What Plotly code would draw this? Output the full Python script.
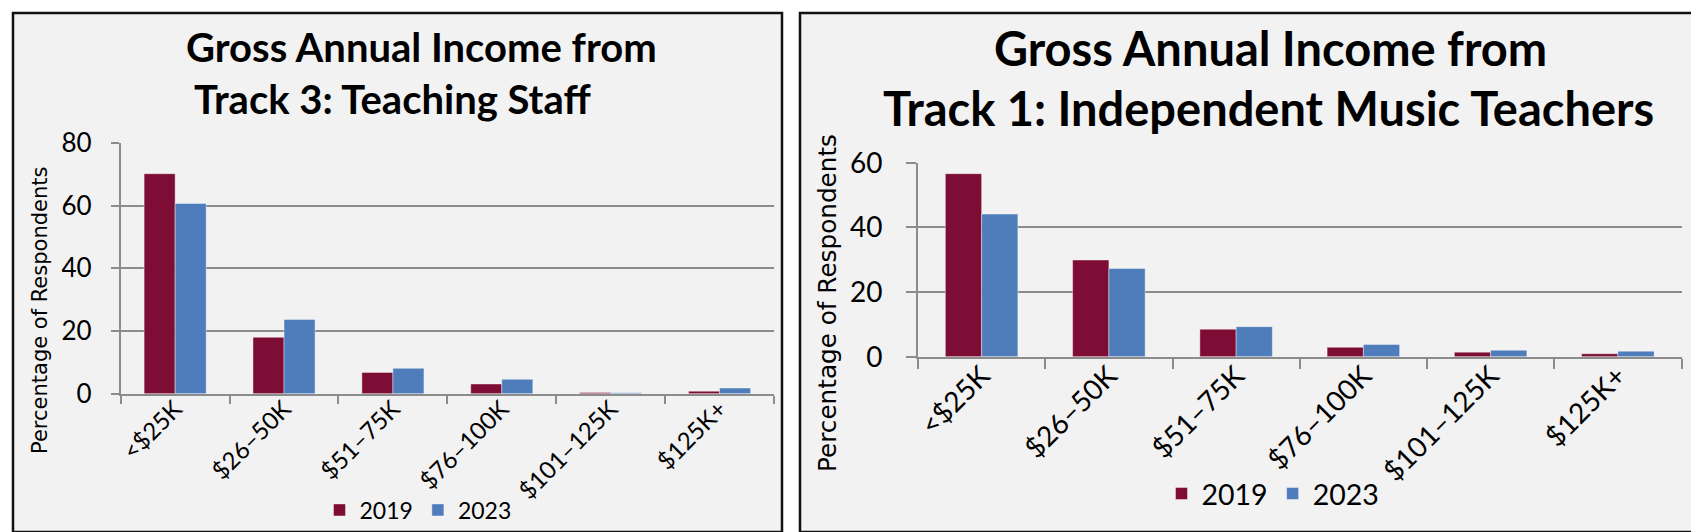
import plotly.graph_objects as go

# ---------------- data ----------------
categories = ["<$25K", "$26–50K", "$51–75K", "$76–100K", "$101–125K", "$125K+"]
series_names = ["2019", "2023"]
teaching_2019 = [70.2, 18.0, 6.8, 3.1, 0.4, 0.8]
teaching_2023 = [60.7, 23.7, 8.1, 4.6, 0.3, 1.8]
independent_2019 = [56.6, 29.9, 8.5, 2.9, 1.4, 0.9]
independent_2023 = [44.1, 27.3, 9.3, 3.8, 2.0, 1.7]
left_title = ["Gross Annual Income from", "Track 3: Teaching Staff"]
right_title = ["Gross Annual Income from", "Track 1: Independent Music Teachers"]
y_title = "Percentage of Respondents"

# ---------------- styling ----------------
W, H = 1699, 532
MAROON = "#7d0d35"
BLUE = "#4f7cba"
GRID = "#8c8c8c"
PANEL = "#f2f2f2"
HUMAN = "Lato, Liberation Sans, sans-serif"
WIDE = "DejaVu Sans, Verdana, sans-serif"


def px(x):
    return x / W


def py(y):
    return 1 - y / H


fig = go.Figure()
colors = [MAROON, BLUE]
for name, vals, col in zip(series_names, [teaching_2019, teaching_2023], colors):
    fig.add_trace(go.Bar(x=categories, y=vals, name=name, marker_color=col,
                         marker_line=dict(color="rgba(255,255,255,0.5)", width=0.8),
                         xaxis="x", yaxis="y", legend="legend"))
for name, vals, col in zip(series_names, [independent_2019, independent_2023], colors):
    fig.add_trace(go.Bar(x=categories, y=vals, name=name, marker_color=col,
                         marker_line=dict(color="rgba(255,255,255,0.5)", width=0.8),
                         xaxis="x2", yaxis="y2", legend="legend2"))


def xax(domain, anchor, size, ticklen, standoff):
    return dict(domain=domain, anchor=anchor, type="category", showline=True,
                linecolor=GRID, linewidth=1.6, ticks="outside", tickson="boundaries",
                ticklen=ticklen, tickcolor=GRID, tickwidth=1.6, tickangle=-45,
                ticklabelstandoff=standoff,
                tickfont=dict(family=HUMAN, size=size, color="#000"),
                showgrid=False, zeroline=False, automargin=False)


def yax(domain, anchor, rng, size, ticklen, standoff):
    return dict(domain=domain, anchor=anchor, range=rng, dtick=20, showline=True,
                linecolor=GRID, linewidth=1.6, ticks="outside", ticklen=ticklen,
                tickcolor=GRID, tickwidth=1.6, showgrid=True, gridcolor=GRID,
                gridwidth=1.6, zeroline=False, automargin=False,
                ticklabelstandoff=standoff,
                tickfont=dict(family=HUMAN, size=size, color="#000"))


shapes = [
    dict(type="rect", xref="paper", yref="paper", x0=px(5), x1=px(774), y0=py(524), y1=py(5),
         line=dict(color="#111", width=2.5), fillcolor=PANEL, layer="below"),
    dict(type="rect", xref="paper", yref="paper", x0=px(792), x1=px(1691), y0=py(524), y1=py(5),
         line=dict(color="#111", width=2.5), fillcolor=PANEL, layer="below"),
]

TF_L = dict(family=HUMAN, size=40, color="#000", weight="bold")
TF_R = dict(family=HUMAN, size=47, color="#000", weight="bold")
annotations = [
    dict(text=left_title[0], x=px(413), y=py(39), xref="paper", yref="paper", showarrow=False,
         xanchor="center", yanchor="middle", font=TF_L),
    dict(text=left_title[1], x=px(384), y=py(91), xref="paper", yref="paper", showarrow=False,
         xanchor="center", yanchor="middle", font=TF_L),
    dict(text=right_title[0], x=px(1262), y=py(40), xref="paper", yref="paper", showarrow=False,
         xanchor="center", yanchor="middle", font=TF_R),
    dict(text=right_title[1], x=px(1260), y=py(100), xref="paper", yref="paper", showarrow=False,
         xanchor="center", yanchor="middle", font=TF_R),
    dict(text=y_title, x=px(32), y=py(303), xref="paper", yref="paper", showarrow=False,
         textangle=-90, xanchor="center", yanchor="middle", font=dict(family=WIDE, size=21, color="#000")),
    dict(text=y_title, x=px(819), y=py(295), xref="paper", yref="paper", showarrow=False,
         textangle=-90, xanchor="center", yanchor="middle", font=dict(family=WIDE, size=24.7, color="#000")),
]

fig.update_layout(
    width=W, height=H, margin=dict(l=0, r=0, t=0, b=0),
    paper_bgcolor="white", plot_bgcolor="rgba(0,0,0,0)",
    barmode="group", bargap=0.43, bargroupgap=0,
    xaxis=xax([px(112.7), px(766)], "y", 24, 8, -10),
    yaxis=yax([py(385.7), py(135)], "x", [0, 80], 26, 8, 14),
    xaxis2=xax([px(910), px(1673.5)], "y2", 28, 10, -10),
    yaxis2=yax([py(348.7), py(154.7)], "x2", [0, 60], 28, 10, 18),
    legend=dict(orientation="h", x=px(410), xanchor="center", y=py(502), yanchor="middle",
                bgcolor="rgba(0,0,0,0)", font=dict(family=HUMAN, size=23, color="#000")),
    legend2=dict(orientation="h", x=px(1265), xanchor="center", y=py(486), yanchor="middle",
                 bgcolor="rgba(0,0,0,0)", font=dict(family=HUMAN, size=28.5, color="#000")),
    shapes=shapes, annotations=annotations, showlegend=True,
)

fig.write_html("out.html")
